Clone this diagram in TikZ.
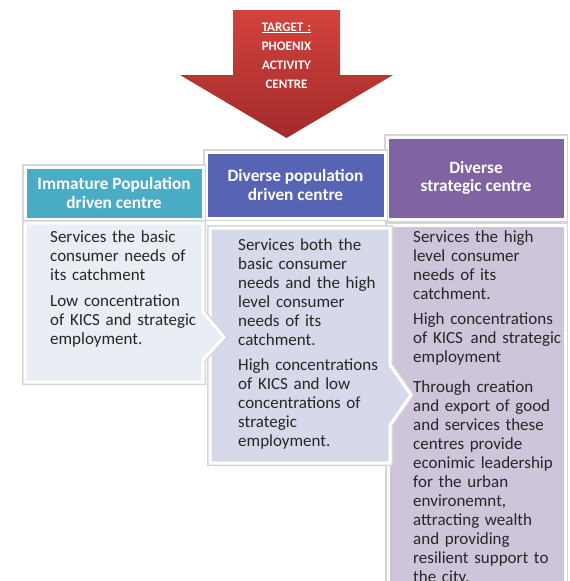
\documentclass[tikz,border=0pt]{standalone}
\usepackage{fontspec}
\setmainfont{Carlito}
\definecolor{framegrey}{HTML}{D6D6D6}
\definecolor{tealhdr}{HTML}{4BACC6}
\definecolor{bluehdr}{HTML}{5763B3}
\definecolor{purplehdr}{HTML}{8064A2}
\definecolor{tealbody}{HTML}{E8EEF3}
\definecolor{bluebody}{HTML}{D6D9E9}
\definecolor{purplebody}{HTML}{CEC5DB}
\definecolor{textgrey}{HTML}{262626}
\definecolor{arrowtop}{HTML}{D3433D}
\definecolor{arrowbot}{HTML}{A22A2A}
\begin{document}
\begin{tikzpicture}[x=1pt,y=-1pt,
  panel/.style={draw=white, line width=3pt, preaction={draw=framegrey, line width=6pt}},
  hdr/.style={panel, text=white, font=\fontsize{17.3}{18.5}\selectfont\bfseries, align=center, inner sep=0pt},
  bodytext/.style={text=textgrey, font=\fontsize{17}{19}\selectfont, align=left, text width=200pt, anchor=base west, inner sep=0pt},
  tgttext/.style={text=white, font=\fontsize{13}{19}\selectfont\bfseries, align=center, text width=100pt, anchor=base, inner sep=0pt}
]
\useasboundingbox (0,0) rectangle (570,581);
\clip (0,0) rectangle (570,581);
\fill[white] (0,0) rectangle (570,581);

% right column
\node[hdr, fill=purplehdr, minimum width=178pt, minimum height=82pt] (h3) at (476,178) {Diverse\\strategic centre};
\path[panel, fill=purplebody] (388,225) -- (565,225) -- (565,600) -- (388,600) -- cycle;

% middle column
\node[hdr, fill=bluehdr, minimum width=179pt, minimum height=66pt] (h2) at (295.5,185) {Diverse population\\driven centre};
\path[panel, fill=bluebody] (210,228) -- (390,228) -- (390,365) -- (411,395) -- (390,425) -- (390,463) -- (210,463) -- cycle;

% left column
\node[hdr, fill=tealhdr, minimum width=178pt, minimum height=52pt] (h1) at (114,193) {Immature Population\\driven centre};
\path[panel, fill=tealbody] (25,223) -- (203,223) -- (203,312) -- (224,337) -- (203,360) -- (203,382) -- (25,382) -- cycle;

% texts
\node[bodytext] (l1) at (50,242) {Services the basic\\consumer needs of\\its catchment};
\node[bodytext] (l2) at (50,306) {Low concentration\\of KICS and strategic\\employment.};

\node[bodytext] (m1) at (238,250) {Services both the\\basic consumer\\needs and the high\\level consumer\\needs of its\\catchment.};
\node[bodytext] (m2) at (238,370) {High concentrations\\of KICS and low\\concentrations of\\strategic\\employment.};

\node[bodytext] (r1) at (413,242) {Services the high\\level consumer\\needs of its\\catchment.};
\node[bodytext] (r2) at (413,324) {High concentrations\\of KICS\kern2pt\ and strategic\\employment};
\node[bodytext] (r3) at (413,392) {Through creation\\and export of good\\and services these\\centres provide\\econimic leadership\\for the urban\\environemnt,\\attracting wealth\\and providing\\resilient support to\\the city.};

% red target arrow
\path[top color=arrowtop, bottom color=arrowbot] (233,10) -- (340,10) -- (340,75) -- (393,75) -- (286.5,138) -- (180,75) -- (233,75) -- cycle;
\node[tgttext] (tgt) at (286.5,31) {\underline{TARGET :}\\PHOENIX\\ACTIVITY\\CENTRE};
\end{tikzpicture}
\end{document}
